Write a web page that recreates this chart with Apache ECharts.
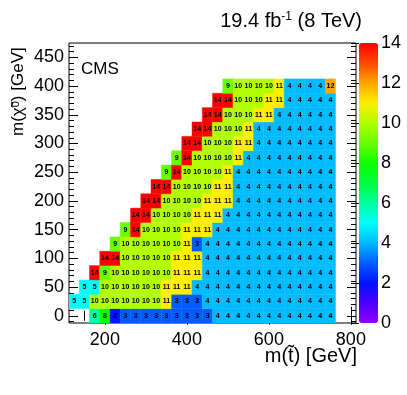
<!DOCTYPE html>
<html>
<head>
<meta charset="utf-8">
<title>stop LSP yield</title>
<script src="https://cdn.jsdelivr.net/npm/echarts@6/dist/echarts.min.js"></script>
<style>
  html, body { margin: 0; padding: 0; background: #fff; }
  #chart { width: 407px; height: 395px; }
</style>
</head>
<body>
<div id="chart"></div>
<script>
// stop mass columns (GeV) and LSP mass rows (GeV)
var stopMass = [125, 150, 175, 200, 225, 250, 275, 300, 325, 350, 375, 400, 425,
                450, 475, 500, 525, 550, 575, 600, 625, 650, 675, 700, 725, 750];
var lspMass = [0, 25, 50, 75, 100, 125, 150, 175, 200, 225, 250, 275, 300, 325, 350, 375, 400];

// one row per LSP mass, one entry per stop mass column (null = no point)
var _ = null;
var lsp0   = [_, _, 6, 8, 2, 3, 3, 3, 3, 3, 3, 3, 3, 3, 4, 4, 4, 4, 4, 4, 4, 4, 4, 4, 4, 4];
var lsp25  = [5, 5, 10, 10, 10, 10, 10, 10, 10, 11, 3, 3, 3, 4, 4, 4, 4, 4, 4, 4, 4, 4, 4, 4, 4, 4];
var lsp50  = [_, 5, 5, 10, 10, 10, 10, 10, 10, 11, 11, 11, 4, 4, 4, 4, 4, 4, 4, 4, 4, 4, 4, 4, 4, 4];
var lsp75  = [_, _, 14, 9, 10, 10, 10, 10, 10, 10, 11, 11, 11, 4, 4, 4, 4, 4, 4, 4, 4, 4, 4, 4, 4, 4];
var lsp100 = [_, _, _, 14, 14, 10, 10, 10, 10, 10, 11, 11, 11, 4, 4, 4, 4, 4, 4, 4, 4, 4, 4, 4, 4, 4];
var lsp125 = [_, _, _, _, 9, 10, 10, 10, 10, 10, 10, 11, 3, 4, 4, 4, 4, 4, 4, 4, 4, 4, 4, 4, 4, 4];
var lsp150 = [_, _, _, _, _, 9, 14, 10, 10, 10, 10, 11, 11, 11, 4, 4, 4, 4, 4, 4, 4, 4, 4, 4, 4, 4];
var lsp175 = [_, _, _, _, _, _, 14, 14, 10, 10, 10, 10, 11, 11, 11, 4, 4, 4, 4, 4, 4, 4, 4, 4, 4, 4];
var lsp200 = [_, _, _, _, _, _, _, 14, 14, 10, 10, 10, 10, 11, 11, 11, 4, 4, 4, 4, 4, 4, 4, 4, 4, 4];
var lsp225 = [_, _, _, _, _, _, _, _, 14, 14, 10, 10, 10, 10, 11, 11, 4, 4, 4, 4, 4, 4, 4, 4, 4, 4];
var lsp250 = [_, _, _, _, _, _, _, _, _, 9, 14, 10, 10, 10, 10, 11, 4, 4, 4, 4, 4, 4, 4, 4, 4, 4];
var lsp275 = [_, _, _, _, _, _, _, _, _, _, 9, 14, 10, 10, 10, 10, 11, 4, 4, 4, 4, 4, 4, 4, 4, 4];
var lsp300 = [_, _, _, _, _, _, _, _, _, _, _, 14, 14, 10, 10, 10, 11, 11, 4, 4, 4, 4, 4, 4, 4, 4];
var lsp325 = [_, _, _, _, _, _, _, _, _, _, _, _, 14, 14, 10, 10, 10, 11, 4, 4, 4, 4, 4, 4, 4, 4];
var lsp350 = [_, _, _, _, _, _, _, _, _, _, _, _, _, 14, 14, 10, 10, 10, 11, 11, 4, 4, 4, 4, 4, 4];
var lsp375 = [_, _, _, _, _, _, _, _, _, _, _, _, _, _, 14, 14, 10, 10, 10, 11, 11, 4, 4, 4, 4, 4];
var lsp400 = [_, _, _, _, _, _, _, _, _, _, _, _, _, _, _, 9, 10, 10, 10, 10, 11, 4, 4, 4, 4, 12];
var rows = [lsp0, lsp25, lsp50, lsp75, lsp100, lsp125, lsp150, lsp175, lsp200,
            lsp225, lsp250, lsp275, lsp300, lsp325, lsp350, lsp375, lsp400];

// tick positions / labels
var xLabelTicks = [200, 400, 600, 800];
var xSmallTicks = [150, 250, 300, 350, 450, 500, 550, 650, 700, 750];
var yLabelTicks = [0, 50, 100, 150, 200, 250, 300, 350, 400, 450];
var ySmallTicks = [];
for (var t = -10; t <= 470; t += 10) { if (t % 50 !== 0) ySmallTicks.push(t); }
var zLabelTicks = [0, 2, 4, 6, 8, 10, 12, 14];

// ROOT "pretty" palette (violet -> red), sampled at integer z
var palette = ['#9200ff', '#4b00ff', '#0014ff', '#005cff', '#00bbff', '#00fffc', '#00ff9c',
               '#00ff3d', '#0aff00', '#69ff00', '#b1ff00', '#ffee00', '#ffa700', '#ff4700', '#ff0000'];

var binHalf = 12.5;
var font = 'Liberation Sans, Arial, Helvetica, sans-serif';

var data = [];
rows.forEach(function (row, j) {
  row.forEach(function (v, i) {
    if (v !== null) data.push([stopMass[i], lspMass[j], v]);
  });
});

var myChart = echarts.init(document.getElementById('chart'), null, { renderer: 'canvas' });

function tickAxis(opt) {
  var base = {
    type: 'value', gridIndex: 0, min: 112.5, max: 812.5,
    axisLine: { show: false }, splitLine: { show: false },
    axisLabel: { show: false },
    axisTick: { show: true, inside: true, lineStyle: { color: '#000', width: 1 } }
  };
  return Object.assign(base, opt);
}

var option = {
  animation: false,
  backgroundColor: '#fff',
  grid: [
    { left: 69, right: 51, top: 43, bottom: 72, show: true, borderColor: '#000', borderWidth: 1, backgroundColor: 'transparent' },
    { left: 359, width: 19, top: 43, bottom: 72, show: false }
  ],
  xAxis: [
    tickAxis({ position: 'bottom',
      axisTick: { show: true, inside: true, length: 9, customValues: xLabelTicks, lineStyle: { color: '#000' } },
      axisLabel: { show: true, customValues: xLabelTicks, color: '#000', fontFamily: font, fontSize: 18, margin: 8 } }),
    tickAxis({ position: 'bottom',
      axisTick: { show: true, inside: true, length: 5, customValues: xSmallTicks, lineStyle: { color: '#000' } } }),
    tickAxis({ position: 'top',
      axisTick: { show: true, inside: true, length: 9, customValues: xLabelTicks, lineStyle: { color: '#000' } } }),
    tickAxis({ position: 'top',
      axisTick: { show: true, inside: true, length: 5, customValues: xSmallTicks, lineStyle: { color: '#000' } } }),
    { type: 'value', gridIndex: 1, show: false, min: 0, max: 1 }
  ],
  yAxis: [
    { type: 'value', gridIndex: 0, min: -12.5, max: 475, position: 'left',
      axisLine: { show: false }, splitLine: { show: false },
      axisTick: { show: true, inside: true, length: 9, customValues: yLabelTicks, lineStyle: { color: '#000' } },
      axisLabel: { show: true, customValues: yLabelTicks, color: '#000', fontFamily: font, fontSize: 18, margin: 5 } },
    { type: 'value', gridIndex: 0, min: -12.5, max: 475, position: 'left',
      axisLine: { show: false }, splitLine: { show: false }, axisLabel: { show: false },
      axisTick: { show: true, inside: true, length: 5, customValues: ySmallTicks, lineStyle: { color: '#000' } } },
    { type: 'value', gridIndex: 0, min: -12.5, max: 475, position: 'right',
      axisLine: { show: false }, splitLine: { show: false }, axisLabel: { show: false },
      axisTick: { show: true, inside: true, length: 9, customValues: yLabelTicks, lineStyle: { color: '#000' } } },
    { type: 'value', gridIndex: 0, min: -12.5, max: 475, position: 'right',
      axisLine: { show: false }, splitLine: { show: false }, axisLabel: { show: false },
      axisTick: { show: true, inside: true, length: 5, customValues: ySmallTicks, lineStyle: { color: '#000' } } },
    // colour bar axis
    { type: 'value', gridIndex: 1, min: 0, max: 14, position: 'right',
      axisLine: { show: false }, splitLine: { show: false },
      axisTick: { show: true, inside: true, length: 8, customValues: zLabelTicks, lineStyle: { color: '#000' } },
      axisLabel: { show: true, customValues: zLabelTicks, color: '#000', fontFamily: font, fontSize: 18, margin: 3 } }
  ],
  visualMap: {
    type: 'continuous', min: 0, max: 14, dimension: 2, seriesIndex: 0,
    calculable: false, hoverLink: false, text: null, showLabel: false,
    orient: 'vertical', left: 359, top: 43, padding: 0,
    itemWidth: 19, itemHeight: 280,
    inRange: { color: palette }
  },
  series: [{
    type: 'custom',
    xAxisIndex: 0, yAxisIndex: 0,
    clip: true,
    data: data,
    encode: { x: 0, y: 1 },
    renderItem: function (params, api) {
      var x = api.value(0), y = api.value(1);
      var p0 = api.coord([x - binHalf, y + binHalf]);
      var p1 = api.coord([x + binHalf, y - binHalf]);
      var c = api.coord([x, y]);
      var col = api.visual('color');
      return {
        type: 'group',
        children: [
          { type: 'rect', shape: { x: p0[0], y: p0[1], width: p1[0] - p0[0], height: p1[1] - p0[1] },
            style: { fill: col, stroke: col, lineWidth: 0.4 } },
          { type: 'text', x: c[0], y: c[1],
            style: { text: String(api.value(2)), fill: '#000', align: 'center', verticalAlign: 'middle',
                     font: 'bold 7px ' + font } }
        ]
      };
    }
  }],
  graphic: [
    { type: 'text', right: 45, top: 11,
      style: { text: '19.4 fb{sup|-1} (8 TeV)', fill: '#000', font: '20px ' + font,
               rich: { sup: { fontSize: 12, verticalAlign: 'top', padding: [0, 0, 7, 0], fontFamily: font } } } },
    { type: 'text', left: 81, top: 61,
      style: { text: 'CMS', fill: '#000', font: '17px ' + font } },
    { type: 'text', right: 50, top: 346,
      style: { text: 'm(t\u0303) [GeV]', fill: '#000', font: '20px ' + font } },
    { type: 'text', x: 27, y: 136, rotation: Math.PI / 2,
      style: { text: 'm(\u03C7\u0303{sup|0}) [GeV]', fill: '#000', font: '17px ' + font,
               align: 'left', verticalAlign: 'bottom',
               rich: { sup: { fontSize: 11, verticalAlign: 'top', fontFamily: font } } } }
  ]
};

myChart.setOption(option);
</script>
</body>
</html>
